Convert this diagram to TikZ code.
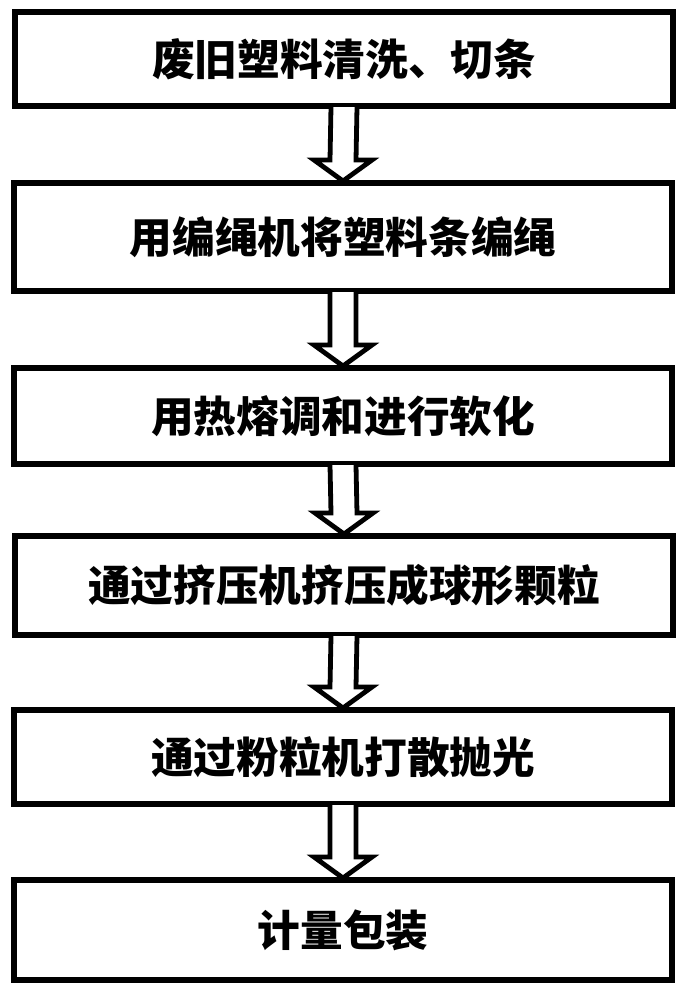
\documentclass[tikz,border=0pt]{standalone}
\usepackage{fontspec}
\newfontfamily\cjk{Noto Sans CJK SC}
\usetikzlibrary{calc}
\tikzset{
    stepbox/.style={draw=black, line width=4.5pt, fill=white, minimum width=494pt,
        inner sep=0pt, font=\cjk\bfseries\fontsize{32}{36}\selectfont},
    flowarrow/.style={draw=black, line width=3.6pt, fill=white, line join=miter}
}

\begin{document}
\begin{tikzpicture}[x=0.75pt, y=-0.75pt]
                    \useasboundingbox (0,0) rectangle (689,996);
%                    Steps
                    \node[stepbox, minimum height=70.5pt] (b1) at (344,59) {废旧塑料清洗、切条};
                    \node[stepbox, minimum height=81pt] (b2) at (343,237) {用编绳机将塑料条编绳};
                    \node[stepbox, minimum height=72pt] (b3) at (343,416) {用热熔调和进行软化};
                    \node[stepbox, minimum height=74.25pt] (b4) at (344,585.5) {通过挤压机挤压成球形颗粒};
                    \node[stepbox, minimum height=70.5pt] (b5) at (343,757) {通过粉粒机打散抛光};
                    \node[stepbox, minimum height=75pt] (b6) at (343,930) {计量包装};

%                    Arrows
                    \foreach \a/\b in {b1/b2,b2/b3,b3/b4,b4/b5,b5/b6} {
                        \draw[flowarrow] ($(\a.south)+(-13,-2)$) -- ($(\b.north)+(-13,-20)$)
                            -- ($(\b.north)+(-29,-20)$) -- ($(\b.north)+(0,1)$)
                            -- ($(\b.north)+(29,-20)$) -- ($(\b.north)+(13,-20)$)
                            -- ($(\a.south)+(13,-2)$);
                    }

                \end{tikzpicture}
\end{document}
